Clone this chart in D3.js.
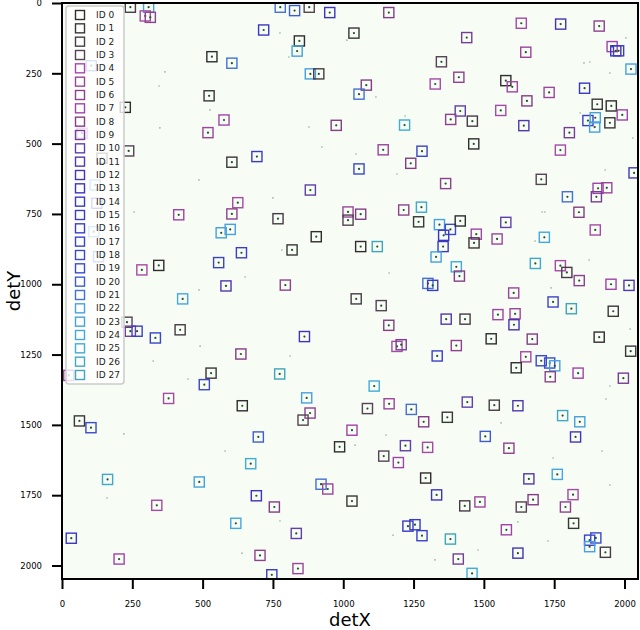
<!DOCTYPE html>
<html>
<head>
<meta charset="utf-8">
<script src="https://cdn.jsdelivr.net/npm/d3@7"></script>
<style>
body { margin: 0; background: #fff; }
text { font-family: "DejaVu Sans", sans-serif; }
</style>
</head>
<body>
<div id="chart"></div>
<script>
// detector coordinates of the marked spots, with their ID
var spotX = [
  243,308,296,314,776,827,879,952,717,844,
  836,1038,533,604,883,913,523,225,576,519,
  975,237,604,693,883,625,604,415,768,1017,
  1017,1062,566,598,904,818,638,557,344,284,
  583,794,104,71,142,118,124,113,130,24,
  1162,1439,1633,1773,1910,1956,1969,1979,2023,1649,
  1349,1082,1056,1327,1411,1578,1601,1732,1858,1653,
  1560,1416,1382,1459,1218,1642,1903,1953,1992,1870,
  1896,1894,1948,1804,1464,1142,1280,1240,1056,1772,
  1364,1704,2034,1906,1937,1900,1797,1838,1896,1215,
  1278,1268,1342,1381,1357,1416,1473,1465,1547,1578,
  1715,1062,1121,1355,1330,1402,1413,1301,1318,1683,
  1772,1795,1839,1952,2016,1606,429,231,243,267,
  332,420,862,636,530,506,774,379,641,870,
  882,857,1031,62,103,698,987,671,162,488,
  921,945,1031,691,755,337,618,833,33,704,
  203,839,746,1046,1135,1162,1191,1206,1366,1433,
  1334,1402,1526,1550,1611,1607,1672,1746,1811,1960,
  1910,2022,1649,1704,1734,1752,1615,1736,1835,1996,
  1110,1086,1163,1242,1286,1370,1441,1537,1621,1780,
  1841,1826,1505,1221,1300,1589,1144,1196,1293,1660,
  1761,1332,1432,1486,1633,1675,1817,1790,1819,1230,
  1255,1280,1381,1580,1621,1409,1458,1876,1898,1876,1932];
var spotY = [
  15,15,46,51,15,27,15,34,96,135,
  171,107,191,214,252,252,330,371,416,461,
  435,526,566,546,665,710,750,753,767,743,
  772,751,817,805,831,878,888,923,933,949,
  1006,1003,223,463,552,647,712,813,902,1324,
  34,123,72,75,82,155,170,170,235,175,
  209,292,324,288,264,276,298,318,303,348,
  382,384,414,420,434,436,360,366,398,418,
  408,441,426,461,501,522,527,570,590,523,
  642,627,604,659,657,689,689,744,807,736,
  726,778,788,805,826,775,822,853,839,780,
  833,866,866,866,903,938,971,997,1004,926,
  934,958,987,1000,1004,1031,1052,1135,1167,1167,
  1191,1162,1186,1248,1316,1357,1319,1406,1432,1404,
  1458,1483,1519,1486,1510,1543,1578,1638,1694,1703,
  1711,1728,1771,1752,1792,1786,1850,1886,1903,1964,
  1977,2011,2033,1052,1076,1146,1221,1215,1124,1124,
  1255,1218,1194,1108,1105,1144,1195,1063,1087,1096,
  1188,1238,1258,1272,1280,1290,1297,1329,1316,1334,
  1362,1442,1425,1445,1489,1473,1419,1430,1432,1467,
  1489,1543,1541,1574,1580,1583,1611,1634,1689,1692,
  1676,1749,1788,1774,1792,1766,1748,1792,1850,1860,
  1855,1894,1906,1873,1956,1977,2028,1910,1902,1933,1953];
var spotId = [
  2,22,4,6,21,20,3,13,14,0,
  23,1,0,21,22,2,1,0,7,5,
  8,3,1,15,10,4,6,7,2,5,
  3,8,23,22,0,1,16,17,0,4,
  11,6,21,7,2,22,18,23,21,5,
  8,9,4,12,6,7,13,15,22,5,
  3,8,21,4,6,0,7,5,14,8,
  4,10,6,2,25,11,1,0,7,16,
  23,22,1,9,0,5,17,8,18,4,
  6,3,12,7,5,9,21,8,4,6,
  26,1,22,19,13,0,7,1,5,10,
  24,0,27,14,23,25,8,21,15,26,
  4,2,6,7,11,5,24,3,9,16,
  17,2,12,8,1,18,27,4,0,22,
  6,3,7,1,19,20,0,25,26,23,
  21,5,1,13,8,4,24,10,14,6,
  7,5,15,2,3,8,4,9,11,2,
  16,6,0,7,5,12,8,17,27,1,
  0,1,4,18,19,22,0,6,7,9,
  25,3,5,21,8,1,10,2,11,26,
  23,12,20,10,4,6,3,7,0,11,
  24,13,2,5,3,8,4,6,1,14,
  15,16,27,7,12,9,25,17,18,22,2];

// faint unmarked spots in the image
var bgX = [366,345,526,775,1013,807,348,878,924,487,750,782,487,651,256,
  1707,1717,1874,1682,1116,1220,1842,2005,1856,1877,1948,2030,1931,1191,1045,
  1163,1739,811,491,324,448,220,580,775,640,160,1152,1042,1948,1934,
  2020,1746,1621,1728,1326,1177,1479,1561,1920,1948];
var bgY = [245,295,380,107,132,192,444,441,512,629,693,878,1020,974,743,
  743,743,914,846,334,402,391,124,213,210,249,480,594,608,537,
  960,1013,1255,1220,1273,1337,1532,1593,1842,1956,1760,1536,1572,1362,1408,
  1159,1618,1845,1913,1980,1892,1945,1493,1593,1714];

var idColors = ["#2e2e2e","#383838","#463c46","#544454",
  "#a64aa6","#9a469a","#8e428e","#a044a8","#843e84",
  "#763e96","#6040a8","#5038b0","#4434b8","#3c34c0",
  "#3a38c2","#3a3cc4","#3a40c6","#3a44c8","#3a48ca","#3a4ccc",
  "#3f5cd0","#4470d6","#46a0e2","#44a2dc","#44a8e0","#40acd8","#40a8c8","#3ea6b8"];
var idLabels = [];
for (i=0;i<idColors.length;i++) {
	idLabels.push("ID " + i);
}
var tickVals = [0,250,500,750,1000,1250,1500,1750,2000];

var w = 640;
var h = 630;
var half = 18;

var svg = d3.select("#chart")
		.append("svg")
		.attr("width", w)
		.attr("height", h);

var x = d3.scaleLinear().domain([0,2048]).range([62,638]);
var y = d3.scaleLinear().domain([0,2048]).range([3,579]);

svg.append("clipPath").attr("id","plotclip")
	.append("rect")
	.attr("x", x(0)).attr("y", y(0))
	.attr("width", x(2048)-x(0)).attr("height", y(2048)-y(0));

svg.append("rect")
	.attr("x", x(0)).attr("y", y(0))
	.attr("width", x(2048)-x(0)).attr("height", y(2048)-y(0))
	.attr("fill", "#f7fcf5");

var plot = svg.append("g").attr("clip-path","url(#plotclip)");

plot.selectAll("circle.bg")
	.data(bgX)
	.enter()
	.append("circle")
	.attr("class","bg")
	.attr("cx", function(d) { return x(d); })
	.attr("cy", function(d, i) { return y(bgY[i]); })
	.attr("r", 0.8)
	.attr("fill", "#8fae96");

var spots = plot.selectAll("g.spot")
	.data(spotX)
	.enter()
	.append("g")
	.attr("class","spot");

spots.append("circle")
	.attr("cx", function(d) { return x(d); })
	.attr("cy", function(d, i) { return y(spotY[i]); })
	.attr("r", 1.1)
	.attr("fill", "#24502f");

spots.append("rect")
	.attr("x", function(d) { return x(d - half); })
	.attr("y", function(d, i) { return y(spotY[i] - half); })
	.attr("width", x(2*half) - x(0))
	.attr("height", y(2*half) - y(0))
	.attr("fill", "none")
	.attr("stroke", function(d, i) { return idColors[spotId[i]]; })
	.attr("stroke-width", 1.4);

var xAxis = svg.append("g")
	.attr("transform", "translate(0," + y(2048) + ")")
	.call(d3.axisBottom(x).tickValues(tickVals).tickFormat(d3.format("d")).tickSize(10).tickPadding(12));
var yAxis = svg.append("g")
	.attr("transform", "translate(" + x(0) + ",0)")
	.call(d3.axisLeft(y).tickValues(tickVals).tickFormat(d3.format("d")).tickSize(10).tickPadding(10));

[xAxis, yAxis].forEach(function(a) {
	a.select(".domain").remove();
	a.selectAll(".tick line").attr("stroke","#000").attr("stroke-width",2);
	a.selectAll(".tick text").attr("font-size","8.5px").attr("fill","#000")
		.attr("font-family","DejaVu Sans");
});

svg.append("rect")
	.attr("x", x(0)).attr("y", y(0))
	.attr("width", x(2048)-x(0)).attr("height", y(2048)-y(0))
	.attr("fill", "none")
	.attr("stroke", "#000")
	.attr("stroke-width", 2);

svg.append("text")
	.attr("x", (x(0)+x(2048))/2)
	.attr("y", 626)
	.attr("text-anchor","middle")
	.attr("font-size","18px")
	.text("detX");

svg.append("text")
	.attr("transform","translate(20," + (y(0)+y(2048))/2 + ")rotate(-90)")
	.attr("text-anchor","middle")
	.attr("font-size","18px")
	.text("detY");

// legend
var lg = svg.append("g");
lg.append("rect")
	.attr("x", 66).attr("y", 6)
	.attr("width", 58).attr("height", 378)
	.attr("rx", 3)
	.attr("fill", "#fff").attr("fill-opacity", 0.8)
	.attr("stroke", "#cccccc").attr("stroke-width", 1.5);

var rows = lg.selectAll("g.row")
	.data(idLabels)
	.enter()
	.append("g")
	.attr("class","row")
	.attr("transform", function(d, i) { return "translate(0," + (15 + i*13.333) + ")"; });

rows.append("rect")
	.attr("x", 75.5).attr("y", -4.5)
	.attr("width", 9).attr("height", 9)
	.attr("fill", "none")
	.attr("stroke", function(d, i) { return idColors[i]; })
	.attr("stroke-width", 1.4);

rows.append("text")
	.attr("x", 96)
	.attr("dy", "0.35em")
	.attr("font-size", "9px")
	.attr("fill", "#222")
	.text(function(d) { return d; });
</script>
</body>
</html>
